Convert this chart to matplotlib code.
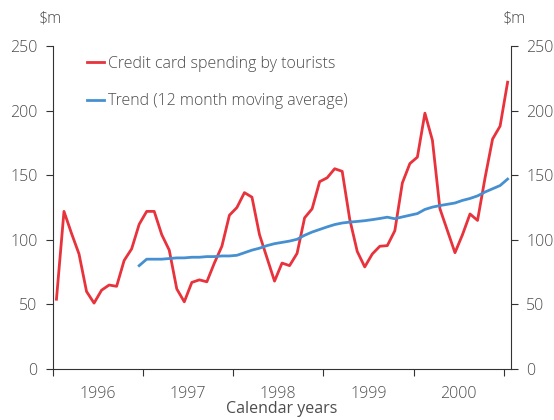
import numpy as np
import matplotlib
matplotlib.use('Agg')
import matplotlib.pyplot as plt

plt.rcParams['font.family'] = ['Open Sans', 'DejaVu Sans']
plt.rcParams['font.weight'] = 'light'

'''
数据：1996年1月 - 2001年1月，每月
'''
spending = [54, 122, 105, 89, 60, 51, 61, 65, 64, 84, 93, 112,
            122, 122, 104, 92, 62, 52, 67, 69, 67.5, 82, 95, 119,
            125, 136.5, 133, 104, 86, 68, 82, 80, 89.5, 117, 124, 145,
            148, 155, 153, 116, 91, 79, 89, 95, 95.5, 107, 144, 159,
            164, 198, 177, 124, 107, 90, 104, 120, 115, 148, 178, 188,
            222]
trend = [80, 85, 85, 85, 85.5, 86, 86, 86.5, 86.5, 87, 87, 87.5,
         87.5, 88, 90, 92, 93.5, 95.5, 97, 98, 99, 100.4, 103.5, 106,
         108, 110, 111.8, 113, 113.7, 114.2, 114.8, 115.6, 116.5, 117.5, 116.3, 117.7,
         119, 120.3, 123.5, 125.3, 126.5, 127.5, 128.5, 130.5, 132, 134, 137, 139.5,
         142, 147]
trend_start = 11
years = ['1996', '1997', '1998', '1999', '2000']

text_col = '#4d4d4d'
red = '#e8323c'
blue = '#4690d2'
fs = 11.5

fig = plt.figure(figsize=(5.54, 4.2), dpi=100)
ax = fig.add_axes([52.7 / 554, 51 / 420, (511 - 52.7) / 554, 323 / 420])

x_sp = np.arange(len(spending))
x_tr = np.arange(trend_start, trend_start + len(trend))
ax.plot(x_sp, spending, color=red, lw=2, label='Credit card spending by tourists')
ax.plot(x_tr, trend, color=blue, lw=2, label='Trend (12 month moving average)')

ax.set_xlim(-0.5, 60.45)
ax.set_ylim(0, 250)
ax.set_yticks(np.arange(0, 251, 50))
ax.set_xticks(np.arange(-0.5, 60, 12))
ax.set_xticks(np.arange(5.5, 60, 12), minor=True)
ax.set_xticklabels([])
ax.set_xticklabels(years, minor=True)
ax.tick_params(axis='x', which='minor', length=0, pad=12, labelsize=fs, labelcolor=text_col)
ax.tick_params(axis='x', which='major', length=5, direction='out', color='#333333')
ax.tick_params(axis='y', length=5, direction='out', labelsize=fs, labelcolor=text_col, color='#333333', pad=6)
for s in ['top', 'right']:
    ax.spines[s].set_visible(False)
for s in ['left', 'bottom']:
    ax.spines[s].set_color('#333333')

ax2 = ax.twinx()
ax2.set_ylim(0, 250)
ax2.set_yticks(np.arange(0, 251, 50))
ax2.tick_params(axis='y', length=5, direction='out', labelsize=fs, labelcolor=text_col, color='#333333', pad=6)
for s in ['top', 'left', 'bottom']:
    ax2.spines[s].set_visible(False)
ax2.spines['right'].set_color('#333333')

ax.set_xlabel('Calendar years', fontsize=fs, color=text_col, labelpad=-0.5)
fig.text(50 / 554, 1 - 19 / 420, r'\$m', fontsize=fs, color=text_col, va='center', ha='center')
fig.text(514 / 554, 1 - 19 / 420, r'\$m', fontsize=fs, color=text_col, va='center', ha='center')

ax.legend(loc='upper left', bbox_to_anchor=(0.043, 1.015), frameon=False, fontsize=fs,
          handlelength=1.05, handletextpad=0.25, labelspacing=1.35, labelcolor=text_col)

plt.savefig('out.png', dpi=100)
